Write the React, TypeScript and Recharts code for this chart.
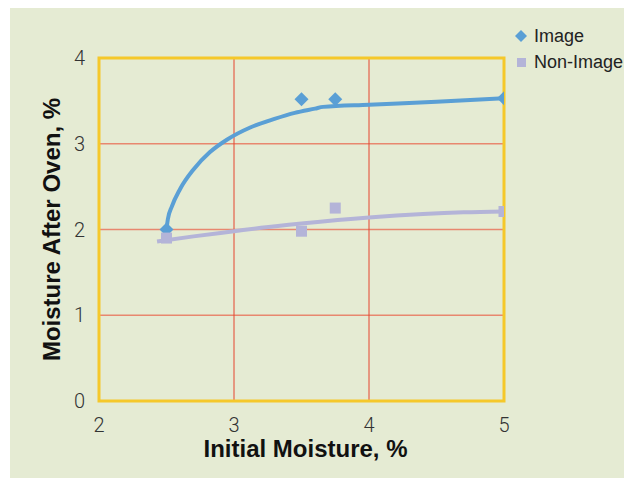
import React from "react";
import {
  ComposedChart,
  XAxis,
  YAxis,
  CartesianGrid,
  Line,
  Scatter,
  ReferenceArea,
  Legend,
  Label,
} from "recharts";

// Measured samples
const initialMoisture = [2.5, 3.5, 3.75, 5];
const imageAfterOven = [2.0, 3.52, 3.52, 3.53];
const nonImageAfterOven = [1.9, 1.98, 2.25, 2.21];

// Fitted trend curves (x, y)
const imageTrendX = [2.5, 2.51, 2.54, 2.6, 2.7, 2.82, 2.95, 3.12, 3.3, 3.45, 3.6, 3.66, 4.0, 4.5, 5.0];
const imageTrendY = [2.0, 2.12, 2.27, 2.47, 2.7, 2.9, 3.05, 3.19, 3.29, 3.36, 3.41, 3.43, 3.455, 3.49, 3.53];
const nonImageTrendX = [2.43, 2.7, 3.0, 3.2, 3.5, 4.0, 4.4, 4.7, 5.0];
const nonImageTrendY = [1.86, 1.92, 1.98, 2.02, 2.07, 2.14, 2.18, 2.2, 2.21];

const xTicks = [2, 3, 4, 5];
const yTicks = [0, 1, 2, 3, 4];

const seriesNames = ["Image", "Non-Image"];

const BG = "#e5ebd3";
const BLUE = "#5a9fd5";
const LAVENDER = "#b4b4d8";
const YELLOW = "#f5c82a";

const imagePoints = initialMoisture.map((x, i) => ({ x, y: imageAfterOven[i] }));
const nonImagePoints = initialMoisture.map((x, i) => ({ x, y: nonImageAfterOven[i] }));
const imageTrend = imageTrendX.map((x, i) => ({ x, y: imageTrendY[i] }));
const nonImageTrend = nonImageTrendX.map((x, i) => ({ x, y: nonImageTrendY[i] }));

const Diamond = (props: any) => {
  const { cx, cy } = props;
  const r = 7;
  return (
    <polygon
      points={`${cx},${cy - r} ${cx + r},${cy} ${cx},${cy + r} ${cx - r},${cy}`}
      fill={BLUE}
    />
  );
};

const Square = (props: any) => {
  const { cx, cy } = props;
  const h = 5.5;
  return <rect x={cx - h} y={cy - h} width={h * 2} height={h * 2} fill={LAVENDER} />;
};

const tickStyle = {
  fontFamily: "Roboto, 'Liberation Sans', Arial, sans-serif",
  fontWeight: 300,
  fontSize: 20,
  fill: "#333",
};

const titleStyle = {
  fontFamily: "'Liberation Sans', Arial, sans-serif",
  fontWeight: 700,
  fontSize: 24,
  fill: "#111",
};

const legendText = {
  fontFamily: "'Liberation Sans', Arial, sans-serif",
  fontSize: 18,
  fill: "#222",
};

const YTitle = (props: any) => {
  const vb = props.viewBox || { x: 0, y: 53, width: 89, height: 343 };
  const cx = vb.x + 50;
  const cy = vb.y + vb.height / 2;
  return (
    <text x={cx} y={cy} transform={`rotate(-90 ${cx} ${cy})`} textAnchor="middle" style={titleStyle}>
      Moisture After Oven, %
    </text>
  );
};

const XTitle = (props: any) => {
  const vb = props.viewBox || { x: 89, y: 396, width: 405, height: 60 };
  const cx = vb.x + vb.width / 2 + 4;
  return (
    <text x={cx} y={vb.y + 56} textAnchor="middle" style={titleStyle}>
      Initial Moisture, %
    </text>
  );
};

const LegendBox = () => (
  <svg width={130} height={60} style={{ display: "block", overflow: "visible" }}>
    <polygon points="11,6 17,12 11,18 5,12" fill={BLUE} />
    <text x={24} y={18} style={legendText}>
      {seriesNames[0]}
    </text>
    <rect x={7} y={34} width={9} height={9} fill={LAVENDER} />
    <text x={24} y={44} style={legendText}>
      {seriesNames[1]}
    </text>
  </svg>
);

export default function App() {
  return (
    <div style={{ width: 622, height: 473, marginLeft: 2, marginTop: -3, background: BG }}>
      <ComposedChart
        width={622}
        height={473}
        margin={{ top: 53, right: 128, bottom: 17, left: 0 }}
        style={{ overflow: "visible" }}
      >
        <CartesianGrid
          horizontal={true}
          vertical={false}
          stroke="#e8876f"
          strokeWidth={1.5}
          horizontalValues={yTicks}
        />
        <CartesianGrid
          horizontal={false}
          vertical={true}
          stroke="#e5452f"
          strokeWidth={1}
          verticalValues={xTicks}
        />
        <XAxis
          type="number"
          dataKey="x"
          domain={[2, 5]}
          ticks={xTicks}
          allowDataOverflow
          axisLine={false}
          tickLine={false}
          tickSize={0}
          tickMargin={17}
          height={60}
          tick={tickStyle}
        >
          <Label content={XTitle} />
        </XAxis>
        <YAxis
          type="number"
          dataKey="y"
          domain={[0, 4]}
          ticks={yTicks}
          allowDataOverflow
          axisLine={false}
          tickLine={false}
          tickSize={0}
          tickMargin={14}
          width={89}
          tick={tickStyle}
        >
          <Label content={YTitle} />
        </YAxis>
        <ReferenceArea
          x1={2}
          x2={5}
          y1={0}
          y2={4}
          fill="none"
          stroke={YELLOW}
          strokeWidth={3}
          fillOpacity={0}
          ifOverflow="visible"
        />
        <Line
          data={imageTrend}
          dataKey="y"
          type="monotone"
          stroke={BLUE}
          strokeWidth={4}
          dot={false}
          activeDot={false}
          isAnimationActive={false}
          legendType="none"
        />
        <Line
          data={nonImageTrend}
          dataKey="y"
          type="monotone"
          stroke={LAVENDER}
          strokeWidth={4}
          dot={false}
          activeDot={false}
          isAnimationActive={false}
          legendType="none"
        />
        <Scatter
          name={seriesNames[0]}
          data={imagePoints}
          dataKey="y"
          shape={Diamond}
          isAnimationActive={false}
        />
        <Scatter
          name={seriesNames[1]}
          data={nonImagePoints}
          dataKey="y"
          shape={Square}
          isAnimationActive={false}
        />
        <Legend
          layout="vertical"
          align="center"
          verticalAlign="middle"
          content={LegendBox}
          wrapperStyle={{ position: "absolute", left: 500, top: 19, width: 130, height: 60, overflow: "visible" }}
        />
      </ComposedChart>
    </div>
  );
}
